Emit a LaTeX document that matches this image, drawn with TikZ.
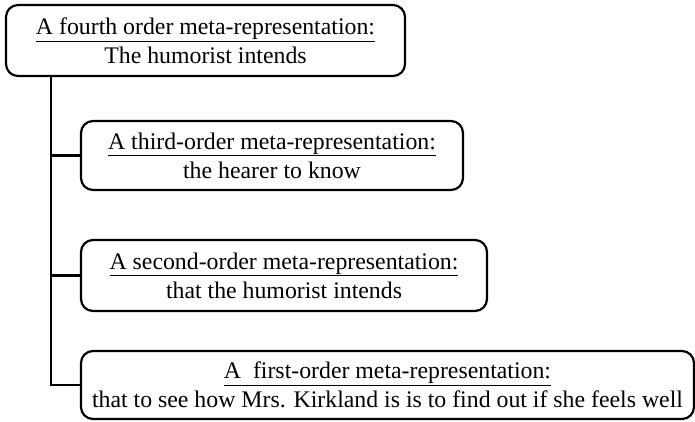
\documentclass[tikz,border=0pt]{standalone}
\usepackage{fontspec}
\setmainfont{Liberation Serif}
\begin{document}
\begin{tikzpicture}[x=1pt,y=-1pt,
  box/.style={draw, line width=2.2pt, rounded corners=12pt, inner sep=0pt, align=center,
    font=\fontsize{23.8}{29}\selectfont},
  conn/.style={draw, line width=2.2pt}]
\useasboundingbox (0,0) rectangle (695,421);
\node[box, minimum width=399pt, minimum height=71pt] (b1) at (205.5,40.5)
  {\underline{A fourth order meta-representation:}\\The humorist intends};
\node[box, minimum width=382pt, minimum height=69pt] (b2) at (272,155.5)
  {\underline{A third-order meta-representation:}\\the hearer to know};
\node[box, minimum width=406pt, minimum height=71pt] (b3) at (284,275.5)
  {\underline{A second-order meta-representation:}\\that the humorist intends};
\node[box, minimum width=613pt, minimum height=68pt] (b4) at (387.5,385)
  {\underline{A\ \ first-order meta-representation:}\\that to see how Mrs. Kirkland is is to find out if she feels well};
\coordinate (t) at (51,0);
\draw[conn] (b1.south -| t) |- (b4.west);
\draw[conn] (b2.west) -- (b2.west -| t);
\draw[conn] (b3.west) -- (b3.west -| t);
\end{tikzpicture}
\end{document}
